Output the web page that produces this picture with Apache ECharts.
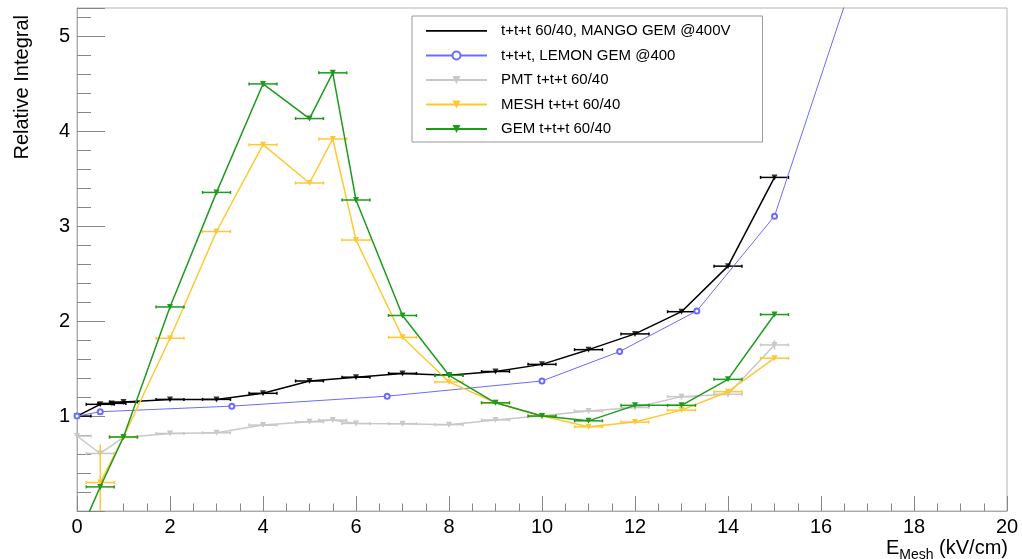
<!DOCTYPE html>
<html>
<head>
<meta charset="utf-8">
<script src="https://cdn.jsdelivr.net/npm/echarts@6/dist/echarts.min.js"></script>
<style>
html, body { margin: 0; padding: 0; background: #fff; }
#main { width: 1022px; height: 559px; }
</style>
</head>
<body>
<div id="main"></div>
<script>
// ---- data ----
var seriesNames = ['t+t+t 60/40, MANGO GEM @400V', 't+t+t, LEMON GEM @400', 'PMT t+t+t 60/40', 'MESH t+t+t 60/40', 'GEM t+t+t 60/40'];

var mangoX = [0, 0.5, 0.75, 1, 2, 3, 4, 5, 6, 7, 8, 9, 10, 11, 12, 13, 14, 15];
var mangoY = [1.0, 1.124, 1.134, 1.148, 1.176, 1.176, 1.24, 1.37, 1.41, 1.45, 1.43, 1.47, 1.545, 1.70, 1.866, 2.10, 2.58, 3.515];
var mangoEx = 0.3;
var mangoEy = 0.015;

var lemonX = [0, 0.5, 3.33, 6.67, 10, 11.67, 13.33, 15, 16.67];
var lemonY = [1.0, 1.046, 1.105, 1.21, 1.37, 1.68, 2.108, 3.107, 5.57];

var pmtX = [0, 0.5, 1, 2, 3, 4, 5, 5.5, 6, 7, 8, 9, 10, 11, 12, 13, 14, 15];
var pmtY = [0.79, 0.606, 0.775, 0.817, 0.824, 0.905, 0.94, 0.958, 0.923, 0.92, 0.91, 0.96, 1.003, 1.053, 1.09, 1.205, 1.23, 1.75];
var pmtEy = [0.01, 0.01, 0.01, 0.01, 0.01, 0.015, 0.015, 0.015, 0.015, 0.02, 0.02, 0.02, 0.02, 0.02, 0.025, 0.03, 0.03, 0.05];

var meshX = [0.5, 1, 2, 3, 4, 5, 5.5, 6, 7, 8, 9, 10, 11, 12, 13, 14, 15];
var meshY = [0.30, 0.78, 1.82, 2.945, 3.86, 3.456, 3.92, 2.855, 1.83, 1.36, 1.14, 1.0, 0.887, 0.937, 1.063, 1.257, 1.61];
var meshEy = [0.4, 0.01, 0.01, 0.01, 0.015, 0.01, 0.015, 0.01, 0.01, 0.01, 0.01, 0.01, 0.01, 0.01, 0.01, 0.015, 0.015];

var gemX = [0, 0.5, 1, 2, 3, 4, 5, 5.5, 6, 7, 8, 9, 10, 11, 12, 13, 14, 15];
var gemY = [-0.3, 0.254, 0.78, 2.15, 3.357, 4.50, 4.135, 4.617, 3.277, 2.06, 1.43, 1.14, 1.0, 0.95, 1.113, 1.113, 1.387, 2.07];
var gemEy = [0.02, 0.02, 0.01, 0.015, 0.02, 0.03, 0.02, 0.03, 0.02, 0.015, 0.01, 0.01, 0.01, 0.01, 0.01, 0.01, 0.015, 0.015];

var xErr = 0.3;

var FONT = '"Liberation Sans", Arial, Helvetica, sans-serif';
var colors = ['#000000', '#6b6bff', '#c8c8c8', '#ffc833', '#1e9a1e'];

function pairs(xs, ys) {
    return xs.map(function (x, i) { return [x, ys[i]]; });
}
// [x, y, ex, ey]
function errRows(xs, ys, ex, ey) {
    return xs.map(function (x, i) {
        return [x, ys[i], ex, Array.isArray(ey) ? ey[i] : ey];
    });
}

// error bars drawn in data coords
function errorBars(color) {
    return function (params, api) {
        var x = api.value(0), y = api.value(1), ex = api.value(2), ey = api.value(3);
        var l = api.coord([x - ex, y]), r = api.coord([x + ex, y]);
        var t = api.coord([x, y + ey]), b = api.coord([x, y - ey]);
        var st = { stroke: color, lineWidth: 1.5 };
        return {
            type: 'group',
            children: [
                { type: 'line', shape: { x1: l[0], y1: l[1], x2: r[0], y2: r[1] }, style: st },
                { type: 'line', shape: { x1: l[0], y1: l[1] - 1.5, x2: l[0], y2: l[1] + 1.5 }, style: st },
                { type: 'line', shape: { x1: r[0], y1: r[1] - 1.5, x2: r[0], y2: r[1] + 1.5 }, style: st },
                { type: 'line', shape: { x1: t[0], y1: t[1], x2: b[0], y2: b[1] }, style: st }
            ]
        };
    };
}

function errSeries(data, color, z) {
    return {
        type: 'custom',
        renderItem: errorBars(color),
        data: data,
        encode: { x: 0, y: 1 },
        clip: true,
        silent: true,
        z: z
    };
}

var chart = echarts.init(document.getElementById('main'), null, { renderer: 'canvas' });

// plain line for the first legend entry (no marker)
var lineIcon = 'path://M0,0 M0,10 M0,4 L61,4 L61,5.8 L0,5.8 Z';

var option = {
    animation: false,
    backgroundColor: '#fff',
    grid: {
        left: 77, right: 15, top: 8, bottom: 48,
        show: true,
        borderColor: '#b4b4b4',
        borderWidth: 1
    },
    legend: {
        orient: 'vertical',
        left: 412,
        top: 16,
        data: [{ name: seriesNames[0], icon: lineIcon }, seriesNames[1], seriesNames[2], seriesNames[3], seriesNames[4]],
        itemWidth: 61,
        itemHeight: 10,
        itemGap: 8.5,
        padding: [7, 32, 5, 13],
        borderColor: '#999',
        borderWidth: 1,
        textStyle: { fontFamily: FONT, fontSize: 15, color: '#000', padding: [0, 0, 0, 9], lineHeight: 16 }
    },
    xAxis: {
        type: 'value',
        min: 0, max: 20, interval: 2,
        axisLine: { lineStyle: { color: '#aaa' } },
        axisTick: { inside: true, length: 15, lineStyle: { color: '#888' } },
        minorTick: { show: true, splitNumber: 4, length: 7.5, lineStyle: { color: '#888' } },
        splitLine: { show: false },
        axisLabel: { color: '#000', fontFamily: FONT, fontSize: 20, margin: 6 }
    },
    yAxis: [{
        type: 'value',
        min: 0, max: 5.3, interval: 1,
        axisLine: { show: true, lineStyle: { color: '#aaa' } },
        axisTick: { show: true, inside: true, length: 28, lineStyle: { color: '#888' } },
        splitLine: { show: false },
        axisLabel: {
            color: '#000', fontFamily: FONT, fontSize: 20, margin: 7,
            formatter: function (v) {
                return (v > 0 && Math.abs(v - Math.round(v)) < 1e-6) ? String(Math.round(v)) : '';
            }
        }
    }, {
        type: 'value',
        position: 'left',
        min: 0, max: 5.3, interval: 0.2,
        axisLine: { show: false },
        axisTick: { show: true, inside: true, length: 14, lineStyle: { color: '#888' } },
        splitLine: { show: false },
        axisLabel: { show: false }
    }],
    graphic: [{
        type: 'text',
        x: 22, y: 15,
        rotation: Math.PI / 2,
        style: {
            text: 'Relative Integral',
            font: '20px ' + FONT,
            fill: '#000',
            align: 'right',
            verticalAlign: 'middle'
        }
    }, {
        type: 'text',
        right: 14, top: 538,
        style: {
            text: 'E{s|Mesh} (kV/cm)',
            font: '20px ' + FONT,
            fill: '#000',
            rich: {
                s: { fontSize: 14, fontFamily: FONT, fill: '#000', padding: [14, 0, 0, 0] }
            }
        }
    }],
    series: [
        {
            name: seriesNames[0], type: 'line', data: pairs(mangoX, mangoY),
            symbol: 'none', lineStyle: { color: colors[0], width: 1.5 }, itemStyle: { color: colors[0] },
            clip: true, z: 2
        },
        {
            type: 'scatter', data: pairs(mangoX, mangoY),
            symbol: 'triangle', symbolRotate: 180, symbolSize: 6, itemStyle: { color: colors[0] },
            clip: true, z: 3
        },
        errSeries(errRows(mangoX, mangoY, mangoEx, mangoEy), colors[0], 3),
        {
            name: seriesNames[1], type: 'line', data: pairs(lemonX, lemonY),
            symbol: 'emptyCircle', symbolSize: 5, showSymbol: true,
            lineStyle: { color: colors[1], width: 1 }, itemStyle: { color: colors[1], borderWidth: 1 },
            clip: true, z: 4
        },
        {
            name: seriesNames[2], type: 'line', data: pairs(pmtX, pmtY),
            symbol: 'triangle', symbolRotate: 180, symbolSize: 6,
            lineStyle: { color: colors[2], width: 1.5 }, itemStyle: { color: colors[2] },
            clip: true, z: 5
        },
        errSeries(errRows(pmtX, pmtY, xErr, pmtEy), colors[2], 5),
        {
            name: seriesNames[3], type: 'line', data: pairs(meshX, meshY),
            symbol: 'triangle', symbolRotate: 180, symbolSize: 6,
            lineStyle: { color: colors[3], width: 1.5 }, itemStyle: { color: colors[3] },
            clip: true, z: 6
        },
        errSeries(errRows(meshX, meshY, xErr, meshEy), colors[3], 6),
        {
            name: seriesNames[4], type: 'line', data: pairs(gemX, gemY),
            symbol: 'triangle', symbolRotate: 180, symbolSize: 6,
            lineStyle: { color: colors[4], width: 1.5 }, itemStyle: { color: colors[4] },
            clip: true, z: 7
        },
        errSeries(errRows(gemX, gemY, xErr, gemEy), colors[4], 7)
    ]
};

chart.setOption(option);
</script>
</body>
</html>
